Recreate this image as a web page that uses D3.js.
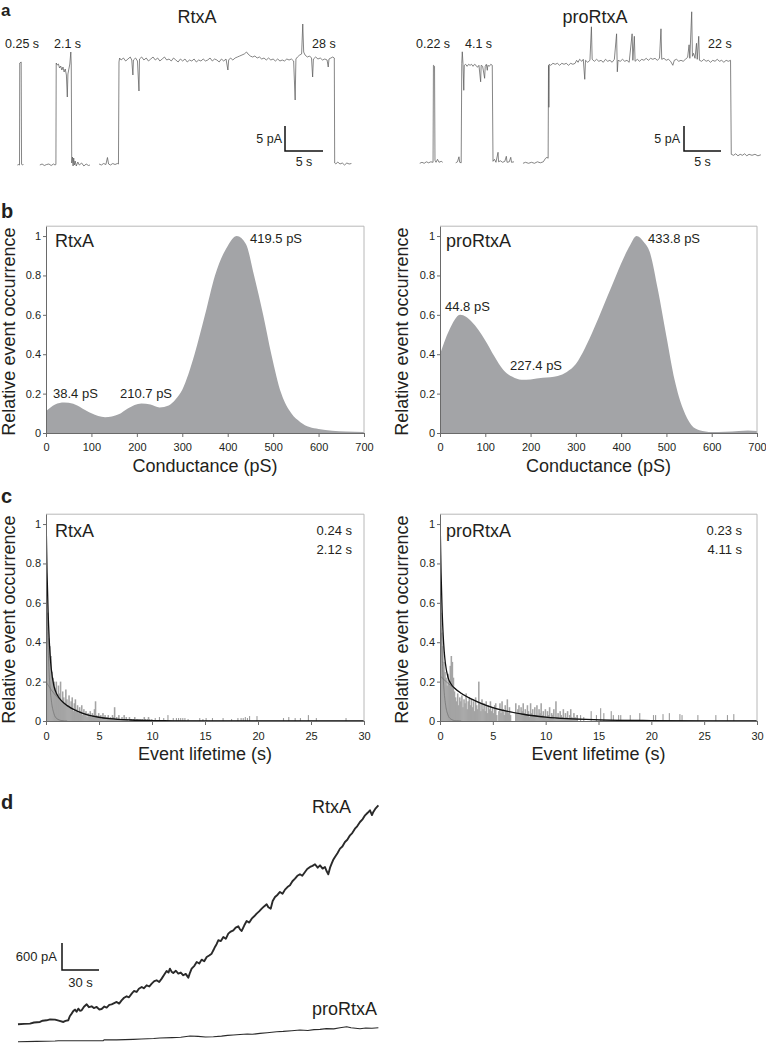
<!DOCTYPE html>
<html><head><meta charset="utf-8">
<script src="https://cdn.jsdelivr.net/npm/d3@7"></script>
<style>
body{margin:0;background:#fff}
svg{display:block}
text{font-family:"Liberation Sans",Arial,sans-serif;fill:#231f20}
</style>
</head><body>
<svg id="fig" width="766" height="1044"></svg>
<script>
// ================= DATA =================
// Panel a: single-channel current traces, segments of [time (s), current (pA)]
const rtxaTraceSegs = [
  [[0.05,0],[0.25,0.1],[0.33,0],[0.36,20.4],[0.55,20.6],[0.6,0.2],[0.7,0],[0.85,0.1]],
  [[3.0,0],[3.3,0.2],[3.6,-0.1],[3.9,0.1],[4.2,0.2],[4.5,-0.1],[4.8,0.2],[5.0,0],[5.12,0.1],[5.16,20.4],[5.3,20],[5.45,20.2],[5.6,19.4],[5.75,19.8],[5.9,19],[6.05,19.6],[6.2,18.6],[6.35,19.2],[6.5,18],[6.62,13.6],[6.7,18.2],[6.8,19],[6.95,20.2],[7.08,22.6],[7.14,20],[7.2,0.4],[7.3,1.6],[7.38,-0.2],[7.46,1.4],[7.55,0],[7.65,0.8],[7.8,-0.2],[8.0,0.6],[8.2,0],[8.5,0.4],[8.8,-0.2],[9.1,0.2],[9.4,-0.1],[9.6,0]],
  [[10.8,0.2],[11.1,0],[11.4,0.3],[11.7,0.1],[11.9,1.5],[12.05,0.2],[12.3,0],[12.6,0.3],[12.9,0.1],[13.2,0.3],[13.35,0.2],[13.42,20.6],[13.5,21.4],[13.7,21],[14.0,21.4],[14.3,20.8],[14.6,21.2],[14.9,21.6],[15.1,21],[15.25,18],[15.32,21],[15.6,21.4],[15.85,20.8],[16.05,14.8],[16.12,21.2],[16.4,21.6],[16.7,21],[17.0,21.4],[17.3,20.8],[17.6,21.2],[17.9,21.6],[18.2,21],[18.5,21.4],[18.8,20.8],[19.1,21.2],[19.4,21.6],[19.7,21],[20.0,21.2],[20.3,20.8],[20.6,21.4],[20.9,21],[21.2,20.6],[21.5,21.2],[21.8,20.8],[22.1,21.2],[22.4,20.6],[22.7,21],[23.0,20.8],[23.3,21.2],[23.6,20.6],[23.9,21],[24.2,20.8],[24.5,21.2],[24.8,20.8],[25.1,21],[25.4,21.4],[25.7,20.8],[26.0,21.2],[26.3,21],[26.6,20.6],[26.9,21.2],[27.2,20.8],[27.5,21.2],[27.75,19],[27.85,21],[28.1,21.4],[28.4,21],[28.7,21.4],[29.0,21.6],[29.3,21.8],[29.6,22],[29.9,22.2],[30.2,22.6],[30.4,22.2],[30.7,21.8],[31.0,21.6],[31.3,21.8],[31.6,21.4],[31.9,21.6],[32.2,21.2],[32.5,21.4],[32.8,21],[33.1,21.4],[33.4,21],[33.7,21.2],[34.0,20.8],[34.3,21.2],[34.6,20.8],[34.9,21],[35.2,20.8],[35.5,21.2],[35.8,21],[36.1,21.2],[36.4,20.8],[36.6,13],[36.7,21.2],[36.9,21.6],[37.2,22],[37.45,22.2],[37.6,28.2],[37.72,22.6],[37.9,22],[38.2,21.6],[38.5,21.8],[38.75,21.4],[38.9,17.6],[39.0,21.2],[39.3,21.6],[39.6,21.2],[39.9,21.4],[40.2,21],[40.5,21.2],[40.8,21],[40.95,19.6],[41.05,21.2],[41.3,21.4],[41.55,21.6],[41.75,21.4],[41.8,0.4],[41.95,0.2],[42.2,0.6],[42.5,0.2],[42.8,0.4],[43.1,0],[43.4,0.4],[43.7,0.2],[44.0,0.3]]
];
const proTraceSegs = [
  [[0.1,0],[0.4,0.2],[0.7,0],[1.0,0.3],[1.3,0.1],[1.6,0.3],[1.9,0.2],[1.95,19.6],[2.1,19.4],[2.16,0.6],[2.3,0.2],[2.5,0.8],[2.7,0.2],[3.0,0.4],[3.2,0.2]],
  [[4.96,0.1],[5.2,0.3],[5.4,1.3],[5.5,0.2],[5.7,0.1],[5.78,20],[5.85,22.3],[5.95,19.8],[6.05,14.6],[6.12,19.6],[6.3,19.8],[6.5,19.4],[6.7,19.8],[6.9,19.6],[7.1,19.8],[7.3,19.4],[7.5,19.8],[7.7,19.6],[7.9,19.2],[8.1,19.6],[8.33,16.3],[8.4,19.6],[8.6,19.4],[8.87,17],[8.95,19.4],[9.1,19.8],[9.23,18.6],[9.3,19.6],[9.5,19.4],[9.7,19.8],[9.9,19.6],[10.0,0.4],[10.2,0.8],[10.4,0.2],[10.68,2.2],[10.75,0.3],[11.0,0.5],[11.3,0.2],[11.6,0.4],[11.8,1.4],[11.9,0.2],[12.2,0.3],[12.4,1.2],[12.5,0.2],[12.84,0.3]],
  [[14.05,0],[14.4,0.2],[14.8,0],[15.2,0.2],[15.6,0],[16.0,0.3],[16.4,0.1],[16.8,0.3],[17.1,1],[17.3,1.2],[17.45,1],[17.5,19.6],[17.55,11.2],[17.6,19.8],[17.8,19.6],[18.1,20],[18.4,19.8],[18.7,20],[19.0,19.6],[19.3,20],[19.6,19.8],[19.9,20],[20.2,19.6],[20.5,20],[20.8,19.8],[21.1,20],[21.3,20.6],[21.5,20.2],[21.7,20.8],[22.0,20.4],[22.2,20.8],[22.4,16.8],[22.5,20.6],[22.8,20.2],[23.1,20.6],[23.3,27.3],[23.4,20.8],[23.7,20.4],[24.0,20.8],[24.3,20.4],[24.6,20.6],[24.9,20.2],[25.2,20.8],[25.5,20.4],[25.8,20.6],[26.1,20.2],[26.4,20.8],[26.7,25.9],[26.8,18.3],[26.9,20.6],[27.2,20.4],[27.5,20.8],[27.8,20.4],[28.1,20.6],[28.4,20.2],[28.8,25.9],[28.9,20.6],[29.1,25.4],[29.2,20.4],[29.5,20.8],[29.8,20.4],[30.1,20.8],[30.4,20.6],[30.7,21],[31.0,20.6],[31.3,21],[31.6,20.8],[31.9,21],[32.2,20.6],[32.5,21],[32.7,26.9],[32.8,20.8],[33.1,21],[33.4,20.6],[33.7,20.8],[34.0,20.4],[34.3,19.6],[34.5,20.6],[34.8,20.8],[35.1,20.4],[35.4,20.6],[35.7,20.4],[36.0,20.8],[36.3,21.2],[36.5,23.7],[36.6,21],[36.85,30.3],[36.95,21.4],[37.1,22],[37.3,21],[37.5,24],[37.6,20.8],[37.8,25.4],[37.9,20.6],[38.2,20.4],[38.5,20.8],[38.8,20.4],[39.1,20.6],[39.4,20.2],[39.7,20.6],[40.0,20.4],[40.3,20.8],[40.6,20.4],[40.9,20.6],[41.2,20.2],[41.5,20.6],[41.8,20.4],[42.1,20.6],[42.2,1.8],[42.5,1.6],[42.8,1.9],[43.1,1.5],[43.4,1.8],[43.7,1.6],[44.0,1.9],[44.3,1.5],[44.6,1.8],[45.0,1.6],[45.4,1.8],[45.8,1.5],[46.2,1.7]]
];
const rtxaDwellLabels = ["0.25 s", "2.1 s", "28 s"];
const proDwellLabels = ["0.22 s", "4.1 s", "22 s"];

// Panel b: conductance distributions (pS, relative occurrence)
const rtxaCondX = [0,20,40,60,80,100,130,160,180,210,230,250,270,285,300,327,350,372,400,420,440,458,478,496,518,540,560,580,600,630,660,700];
const rtxaCondY = [0.11,0.145,0.155,0.148,0.125,0.1,0.08,0.095,0.125,0.15,0.145,0.13,0.14,0.17,0.22,0.4,0.6,0.8,0.95,1.0,0.96,0.8,0.6,0.4,0.2,0.1,0.055,0.03,0.02,0.012,0.008,0.005];
const proCondX = [0,20,44.8,70,100,120,140,160,180,200,227,260,280,300,320,340,360,380,400,420,434,450,463,481,500,518,537,555,573,600,630,660,680,700];
const proCondY = [0.40,0.52,0.60,0.565,0.47,0.39,0.32,0.285,0.27,0.272,0.28,0.29,0.31,0.35,0.43,0.53,0.64,0.75,0.86,0.955,1.0,0.97,0.92,0.73,0.49,0.27,0.12,0.04,0.014,0.005,0.006,0.01,0.013,0.01];
const rtxaCondPeaks = ["38.4 pS", "210.7 pS", "419.5 pS"];
const proCondPeaks = ["44.8 pS", "227.4 pS", "433.8 pS"];
const condTicks = [0,100,200,300,400,500,600,700];
const relTicks = [0,0.2,0.4,0.6,0.8,1];

// Panel c: event lifetime histograms, 0.1 s bins (dense part) + isolated bins [t, h]
const rtxaLifeDense = [
  0.45,0.55,0.42,0.38,0.33,0.25,0.22,0.2,0.17,0.2,
  0.12,0.18,0.14,0.2,0.1,0.15,0.12,0.09,0.16,0.11,
  0.08,0.13,0.07,0.1,0.12,0.05,0.09,0.11,0.06,0.08,
  0.04,0.07,0.05,0.08,0.03,0.06,0.04,0.05,0.02,0.04,
  0.03,0.05,0.02,0.04,0.03,0.06,0.1,0.03,0.02,0.04,
  0.02,0.03,0.01,0.04,0.02,0.03,0.01,0.02,0.03,0.01,
  0.02,0.01,0.03,0.02,0.07,0.01,0.02,0.01,0.03,0.01,
  0.01,0.02,0.01,0.03,0.01,0.02,0.01,0,0.02,0.01,
  0.01,0,0.01,0.02,0,0.01,0.01,0,0.01,0,
  0.01,0,0.02,0.01,0,0.01,0.02,0.01,0,0.01];
const rtxaLifeSparse = [[10.3,0.015],[10.7,0.02],[11.1,0.015],[11.5,0.03],[12.0,0.015],[12.3,0.015],[12.5,0.015],[12.7,0.015],[12.9,0.015],[13.1,0.015],[13.4,0.01],[14.5,0.015],[14.8,0.01],[15.1,0.015],[15.7,0.015],[16.7,0.015],[17.5,0.01],[18.1,0.015],[18.4,0.015],[18.6,0.015],[18.8,0.02],[19.0,0.015],[19.2,0.025],[19.9,0.025],[22.4,0.015],[22.9,0.02],[23.5,0.015],[24.0,0.015],[24.75,0.03],[25.5,0.015],[28.3,0.015]];
const proLifeDense = [
  0.55,0.45,0.38,0.3,0.25,0.22,0.18,0.24,0.2,0.28,
  0.33,0.3,0.22,0.15,0.12,0.1,0.14,0.08,0.12,0.1,
  0.13,0.07,0.11,0.09,0.14,0.06,0.1,0.12,0.08,0.11,
  0.07,0.1,0.05,0.12,0.08,0.06,0.2,0.09,0.05,0.11,
  0.06,0.09,0.05,0.1,0.04,0.08,0.06,0.1,0.05,0.07,
  0.04,0.08,0.09,0.03,0,0.05,0.09,0.04,0.1,0.06,
  0.03,0.08,0.05,0.11,0.04,0.07,0.03,0,0,0,
  0,0.09,0.04,0.06,0.08,0.03,0.07,0.05,0.09,0.04,
  0.06,0.03,0.08,0.05,0.02,0.09,0.04,0.06,0.03,0.07,
  0.03,0.08,0.02,0.06,0.04,0.09,0.03,0.05,0.02,0.06,
  0.02,0.05,0.03,0.07,0.02,0.04,0.03,0.06,0.01,0.1,
  0.02,0.04,0.01,0.05,0.03,0.02,0.06,0.01,0.04,0.02,
  0.05,0.01,0.03,0.06,0.02,0.01,0.04,0.02,0.01,0.03];
const proLifeSparse = [[13.0,0.03],[13.3,0.03],[13.6,0.02],[14.3,0.05],[14.8,0.03],[15.2,0.065],[15.5,0.04],[16.2,0.05],[16.4,0.03],[16.9,0.03],[17.1,0.03],[18.0,0.03],[18.9,0.04],[20.2,0.03],[20.4,0.03],[21.1,0.035],[21.7,0.04],[22.7,0.035],[22.9,0.03],[24.4,0.03],[26.1,0.03],[27.2,0.03],[27.8,0.035]];
// two-exponential fits
const fitT = [0,0.1,0.2,0.3,0.4,0.5,0.75,1,1.5,2,3,4,5,6,8,10,12,15,20,25,30];
const rtxaFitTotal = [1.05,0.751,0.552,0.418,0.326,0.264,0.177,0.138,0.101,0.078,0.049,0.030,0.019,0.012,0.005,0.002,0.001,0,0,0,0];
const rtxaFitFast  = [0.85,0.56,0.37,0.244,0.16,0.106,0.037,0.013,0.002,0];
const rtxaFitSlow  = [0.2,0.191,0.182,0.174,0.166,0.158,0.14,0.125,0.099,0.078,0.049,0.030,0.019,0.012,0.005,0.002,0.001,0,0,0,0];
const proFitTotal  = [1.05,0.755,0.563,0.436,0.353,0.297,0.223,0.192,0.161,0.141,0.111,0.087,0.068,0.054,0.033,0.020,0.012,0.006,0.002,0.0005,0];
const proFitFast   = [0.82,0.53,0.344,0.222,0.144,0.093,0.031,0.011,0.001,0];
const proFitSlow   = [0.23,0.2245,0.219,0.214,0.209,0.204,0.192,0.181,0.160,0.141,0.111,0.087,0.068,0.0535,0.033,0.020,0.0124,0.006,0.0018,0.0005,0];
const rtxaTau = ["0.24 s", "2.12 s"];
const proTau = ["0.23 s", "4.11 s"];
const lifeTicks = [0,5,10,15,20,25,30];

// Panel d: macroscopic currents [time (s), current (pA)]
const rtxaMacro = [[0,0],[5,10],[9.7,15],[13,40],[17.8,52],[20,80],[23.2,89],[26,110],[30,104],[33,80],[36.8,52],[38.5,75],[40.8,89],[42,180],[43.5,237],[45,300],[46.2,326],[47.5,280],[48.9,348],[50.2,300],[51.6,311],[53.5,390],[55.7,444],[57.5,380],[59.7,400],[61.5,360],[63.8,385],[65.8,330],[67.8,341],[70,395],[71.9,370],[74,430],[75.9,444],[78,470],[80,496],[82,460],[84,533],[86,590],[88.1,622],[90,600],[92.2,681],[94,740],[96.2,719],[98,790],[100.3,830],[102,800],[104.3,867],[106.5,840],[108.4,904],[110.5,960],[112.4,978],[114.5,940],[116.5,1015],[118.5,1100],[120.5,1185],[122,1150],[123.2,1237],[124.5,1170],[125.9,1141],[128,1190],[130,1126],[132,1150],[134,1089],[136,1120],[138.1,1037],[139.5,1150],[140.8,1237],[143,1300],[144.9,1385],[147,1350],[148.9,1437],[151,1400],[153,1496],[155,1530],[157,1570],[158.5,1650],[159.7,1719],[161,1780],[162.4,1867],[164.5,1850],[166.5,1941],[168.5,1900],[170.5,2015],[172.5,2060],[174.6,2089],[176.5,2150],[178.6,2178],[180,2110],[181.4,2074],[183.5,2200],[185.4,2296],[187.5,2260],[189.5,2348],[191.5,2400],[193.5,2459],[195.5,2510],[197.6,2570],[199.5,2620],[201.6,2667],[203,2600],[204.9,2570],[206.5,2740],[208.4,2830],[210.5,2880],[212.4,2941],[214.5,2900],[216.5,2993],[218.5,3050],[220.5,3089],[222.5,3180],[224.6,3237],[226.5,3300],[228.6,3333],[230.5,3300],[232.7,3385],[234.5,3450],[236.8,3496],[238.8,3520],[240.8,3556],[243,3480],[244.9,3533],[247,3460],[248.9,3496],[250.3,3400],[251.6,3333],[253,3480],[254.3,3570],[255.5,3650],[257,3719],[259,3800],[261.1,3904],[263,3950],[265.1,4052],[267,4100],[269.2,4200],[271,4250],[273.2,4348],[275,4400],[277.3,4496],[279.5,4560],[281.4,4644],[283.5,4700],[285.4,4756],[287,4650],[288.1,4719],[290,4800],[292.2,4867]];
const proMacro = [[0,0],[15,8],[30,15],[32.7,22],[50,20],[69,22],[70,45],[80,40],[93.5,52],[100,60],[110,70],[115.1,81],[125,90],[132,100],[139.5,126],[146,118],[152,105],[158.4,111],[165,125],[170,140],[174.6,148],[180,160],[186,170],[190,165],[196.2,185],[202,200],[209.7,222],[215,230],[222,245],[228.6,259],[235,250],[240,268],[244.9,274],[250,290],[256,285],[261.1,311],[266.5,333],[270,310],[277.3,289],[282,305],[287,300],[292.2,311]];
const macroNames = ["RtxA", "proRtxA"];

// ================= DRAWING =================
const svg = d3.select("#fig");
function txt(x, y, s, size, anchor, weight) {
  return svg.append("text").attr("x", x).attr("y", y).attr("font-size", size)
    .attr("text-anchor", anchor || "start").attr("font-weight", weight || "normal").text(s);
}

// panel letters
txt(1, 16, "a", 17, "start", "bold");
txt(1, 218, "b", 20, "start", "bold");
txt(1, 503, "c", 20, "start", "bold");
txt(1, 809, "d", 20, "start", "bold");

// ---------- Panel a ----------
const xA1 = d3.scaleLinear().domain([0, 5]).range([17, 55]);
const yA1 = d3.scaleLinear().domain([0, 5]).range([165, 140]);
const xA2 = d3.scaleLinear().domain([0, 5]).range([419, 456]);
const yA2 = d3.scaleLinear().domain([0, 5]).range([163.3, 138.3]);

function drawTrace(segs, xs, ys) {
  const line = d3.line().x(d => xs(d[0])).y(d => ys(d[1]));
  svg.append("g").selectAll("path").data(segs).join("path")
    .attr("d", line).attr("fill", "none").attr("stroke", "#5e5e5e")
    .attr("stroke-width", 0.75).attr("stroke-linejoin", "round");
}
function scaleBar(xs, ys, bx, by, tLen, iLen) {
  const w = xs(tLen) - xs(0), h = ys(0) - ys(iLen);
  svg.append("path").attr("d", `M${bx},${by - h}V${by}H${bx + w}`)
    .attr("fill", "none").attr("stroke", "#111").attr("stroke-width", 1.5);
  return [w, h];
}
drawTrace(rtxaTraceSegs, xA1, yA1);
drawTrace(proTraceSegs, xA2, yA2);
txt(197, 23, "RtxA", 18, "middle");
txt(595, 23, "proRtxA", 18, "middle");
[[5, 48], [54, 48], [312, 48]].forEach((p, i) => txt(p[0], p[1], rtxaDwellLabels[i], 12.5));
[[416, 48], [465, 48], [708, 48]].forEach((p, i) => txt(p[0], p[1], proDwellLabels[i], 12.5));
let sb = scaleBar(xA1, yA1, 285, 151, 5, 5);
txt(282, 143, "5 pA", 12.5, "end");
txt(285 + sb[0] / 2, 166, "5 s", 12.5, "middle");
sb = scaleBar(xA2, yA2, 684, 151, 5, 5);
txt(680, 143, "5 pA", 12.5, "end");
txt(684 + sb[0] / 2, 166, "5 s", 12.5, "middle");

// ---------- generic framed plot ----------
let clipId = 0;
function framedPlot(xs, ys, xTicks, xTitle, yTitleX, tickLabelDy, titleY) {
  const [xa, xb] = xs.range();
  const [yb, ya] = ys.range();
  const g = svg.append("g");
  const cid = "clip" + (clipId++);
  svg.append("clipPath").attr("id", cid).append("rect")
    .attr("x", xa).attr("y", ya).attr("width", xb - xa).attr("height", yb - ya);
  const inner = g.append("g").attr("clip-path", `url(#${cid})`);
  const overlay = g.append("g");
  overlay.append("path").attr("d", `M${xa},${ya}H${xb}V${yb}`)
    .attr("fill", "none").attr("stroke", "#b8b8b8").attr("stroke-width", 1);
  const ax = overlay.append("g").attr("transform", `translate(0,${yb})`)
    .call(d3.axisBottom(xs).tickValues(xTicks).tickSize(4).tickSizeOuter(0).tickFormat(d3.format("d")));
  ax.select(".domain").attr("stroke", "#6a6a6a");
  ax.selectAll(".tick line").attr("stroke", "#6a6a6a");
  ax.selectAll("text").attr("y", tickLabelDy).attr("dy", null).attr("font-size", 11)
    .attr("font-family", '"Liberation Sans",Arial,sans-serif').attr("fill", "#231f20");
  const ay = overlay.append("g").attr("transform", `translate(${xa},0)`)
    .call(d3.axisLeft(ys).tickValues(relTicks).tickSize(3).tickPadding(2).tickSizeOuter(0).tickFormat(d => String(d)));
  ay.select(".domain").attr("stroke", "#6a6a6a");
  ay.selectAll(".tick line").attr("stroke", "#6a6a6a");
  ay.selectAll("text").attr("font-size", 11)
    .attr("font-family", '"Liberation Sans",Arial,sans-serif').attr("fill", "#231f20");
  txt((xa + xb) / 2, titleY, xTitle, 18, "middle");
  const cy = (ya + yb) / 2 + 2;
  svg.append("text").attr("transform", `translate(${yTitleX},${cy}) rotate(-90)`)
    .attr("text-anchor", "middle").attr("font-size", 18).text("Relative event occurrence");
  return inner;
}

// ---------- Panel b ----------
const yB = d3.scaleLinear().domain([0, 1.05]).range([433, 226.2]);
const xB1 = d3.scaleLinear().domain([0, 700]).range([46, 364]);
const xB2 = d3.scaleLinear().domain([0, 700]).range([440, 757]);
function condPanel(xs, xv, yv, yTitleX) {
  const inner = framedPlot(xs, yB, condTicks, "Conductance (pS)", yTitleX, 18, 472);
  const area = d3.area().x((d, i) => xs(xv[i])).y0(yB(0)).y1(d => yB(d)).curve(d3.curveMonotoneX);
  inner.append("path").datum(yv).attr("d", area).attr("fill", "#a3a4a7");
}
condPanel(xB1, rtxaCondX, rtxaCondY, 15);
condPanel(xB2, proCondX, proCondY, 408);
txt(55, 247, "RtxA", 18);
txt(446, 247, "proRtxA", 18);
txt(250, 243, rtxaCondPeaks[2], 13);
txt(53, 398, rtxaCondPeaks[0], 13);
txt(120, 398, rtxaCondPeaks[1], 13);
txt(648, 243, proCondPeaks[2], 13);
txt(445, 311, proCondPeaks[0], 13);
txt(510, 370, proCondPeaks[1], 13);

// ---------- Panel c ----------
const yC = d3.scaleLinear().domain([0, 1.05]).range([721, 514.2]);
const xC1 = d3.scaleLinear().domain([0, 30]).range([46, 364]);
const xC2 = d3.scaleLinear().domain([0, 30]).range([440, 757]);
function lifePanel(xs, dense, sparse, total, fast, slow, yTitleX) {
  const inner = framedPlot(xs, yC, lifeTicks, "Event lifetime (s)", yTitleX, 19, 760);
  const binW = xs(0.1) - xs(0);
  inner.append("g").selectAll("rect").data(dense).join("rect")
    .attr("x", (d, i) => xs(i * 0.1)).attr("width", binW + 0.5)
    .attr("y", d => yC(d)).attr("height", d => yC(0) - yC(d)).attr("fill", "#a4a4a4");
  inner.append("g").selectAll("rect").data(sparse).join("rect")
    .attr("x", d => xs(d[0]) - 0.5).attr("width", 1.1)
    .attr("y", d => yC(d[1])).attr("height", d => yC(0) - yC(d[1])).attr("fill", "#9c9c9c");
  const line = d3.line().x((d, i) => xs(fitT[i])).y(d => yC(d)).curve(d3.curveMonotoneX);
  inner.append("path").datum(fast).attr("d", line).attr("fill", "none").attr("stroke", "#707070").attr("stroke-width", 0.7);
  inner.append("path").datum(slow).attr("d", line).attr("fill", "none").attr("stroke", "#707070").attr("stroke-width", 0.7);
  inner.append("path").datum(total).attr("d", line).attr("fill", "none").attr("stroke", "#111").attr("stroke-width", 1.3);
}
lifePanel(xC1, rtxaLifeDense, rtxaLifeSparse, rtxaFitTotal, rtxaFitFast, rtxaFitSlow, 15);
lifePanel(xC2, proLifeDense, proLifeSparse, proFitTotal, proFitFast, proFitSlow, 408);
txt(55, 537, "RtxA", 18);
txt(446, 537, "proRtxA", 18);
txt(352, 535, rtxaTau[0], 13, "end");
txt(352, 554, rtxaTau[1], 13, "end");
txt(742, 535, proTau[0], 13, "end");
txt(742, 554, proTau[1], 13, "end");

// ---------- Panel d ----------
const xD = d3.scaleLinear().domain([0, 30]).range([18, 55]);
const yD = d3.scaleLinear().domain([0, 600]).range([1024.3, 997.3]);
const proOffset = -387; // vertical display offset of the lower trace (pA)
const lineD = d3.line().x(d => xD(d[0])).y(d => yD(d[1]));
svg.append("path").datum(rtxaMacro).attr("d", lineD).attr("fill", "none")
  .attr("stroke", "#2a2a2a").attr("stroke-width", 1.9).attr("stroke-linejoin", "round");
svg.append("path").datum(proMacro.map(d => [d[0], d[1] + proOffset])).attr("d", lineD).attr("fill", "none")
  .attr("stroke", "#2a2a2a").attr("stroke-width", 1.1).attr("stroke-linejoin", "round");
txt(312, 813, macroNames[0], 18);
txt(312, 1015, macroNames[1], 18);
sb = scaleBar(xD, yD, 62, 970, 30, 600);
txt(57, 961, "600 pA", 13, "end");
txt(62 + sb[0] / 2, 987, "30 s", 13, "middle");
</script>
</body></html>
